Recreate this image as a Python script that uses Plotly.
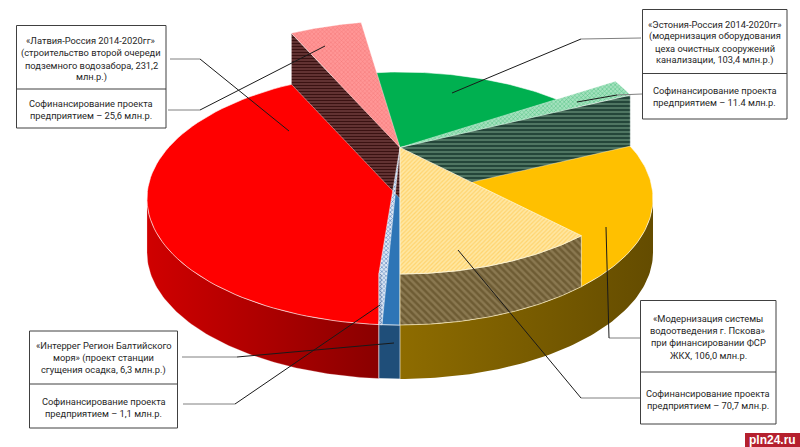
import numpy as np
import plotly.graph_objects as go

# ---- data ----
slice_names = ["blue", "blue_co", "red", "red_co", "green", "green_co", "orange", "orange_co"]
slice_values = [6.3, 1.1, 231.2, 25.6, 103.4, 11.4, 106.0, 70.7]
top_colors = ["#2E75B6", "#B4C7E7", "#FF0000", "#FF9090", "#00B050", "#90DCB0", "#FFC000", "#FFE699"]
box_lines_a = [
    ["«Латвия-Россия 2014-2020гг»", "(строительство второй очереди", "подземного водозабора, 231,2", "млн.р.)"],
    ["«Эстония-Россия 2014-2020гг»", "(модернизация оборудования", "цеха очистных сооружений", "канализации, 103,4 млн.р.)"],
    ["«Интеррег Регион Балтийского", "моря» (проект станции", "сгущения осадка, 6,3 млн.р.)"],
    ["«Модернизация системы", "водоотведения г. Пскова»", "при финансировании ФСР", "ЖКХ, 106,0 млн.р."],
]
box_lines_b = [
    ["Софинансирование проекта", "предприятием – 25,6 млн.р."],
    ["Софинансирование проекта", "предприятием – 11.4 млн.р."],
    ["Софинансирование проекта", "предприятием – 1,1 млн.р."],
    ["Софинансирование проекта", "предприятием – 70,7 млн.р."],
]

# ---- geometry (pixels of the page) ----
CX, CY, RX, RY = 400, 198.5, 253, 126.5
DEPTH, LIFT = 54, 51
FONT = "Roboto"

total = sum(slice_values)
edges = {}
a = 180.0
for n, v in zip(slice_names, slice_values):
    edges[n] = (a, a + v / total * 360)
    a += v / total * 360


def arc(a0, a1, dy=0.0, n=80):
    t = np.radians(np.linspace(a0, a1, n))
    return CX + RX * np.sin(t), CY - RY * np.cos(t) + dy


def rim_pt(ang, dy=0.0):
    x, y = arc(ang, ang, dy, n=2)
    return x[0], y[0]


fig = go.Figure()


def poly(x, y, line="rgba(255,255,255,0.75)", width=0.8, **kw):
    fig.add_trace(go.Scatter(x=list(x), y=list(y), mode="lines", fill="toself",
                             line=dict(color=line, width=width), hoverinfo="skip",
                             showlegend=False, **kw))


def rim_wall(a0, a1, dy_top=0.0, dy_bot=DEPTH, **kw):
    x0, y0 = arc(a0, a1, dy_top)
    x1, y1 = arc(a1, a0, dy_bot)
    poly(np.r_[x0, x1, x0[0]], np.r_[y0, y1, y0[0]], **kw)


def sector(a0, a1, lift=0.0, apex_lift=None, **kw):
    apex_lift = lift if apex_lift is None else apex_lift
    x, y = arc(a0, a1, -lift)
    poly(np.r_[CX, x, CX], np.r_[CY - apex_lift, y, CY - apex_lift], **kw)


def radial_wall(ang, **kw):
    xr, yr = rim_pt(ang)
    poly([CX, xr, xr, CX, CX], [CY - LIFT, yr - LIFT, yr, CY, CY - LIFT], **kw)


def pat(shape, fg, bg, size=3, sol=0.5):
    return dict(shape=shape, fgcolor=fg, bgcolor=bg, size=size, solidity=sol, fillmode="replace")


def grad(c0, c1):
    return dict(type="horizontal", colorscale=[[0, c0], [1, c1]])


# outer side walls
rim_wall(90, 180, line="rgba(0,0,0,0)", width=0, fillgradient=grad("#8E6C00", "#644C00"))
rim_wall(edges["red"][0], 270, line="rgba(255,220,220,0.5)", width=0.5,
         fillgradient=grad("#D00000", "#8A0000"))
rim_wall(180, edges["blue_co"][1], fillcolor="#1F4E79", width=0.8)

# flat tops of the main slices
sector(edges["red"][0], edges["red_co"][1], apex_lift=LIFT, fillcolor=top_colors[2])
sector(edges["green"][0], edges["green"][1], apex_lift=LIFT, fillcolor=top_colors[4])
sector(edges["orange"][0] - 8, edges["orange"][1], fillcolor=top_colors[6])
sector(180, edges["blue_co"][1], apex_lift=LIFT, fillcolor=top_colors[0])

# raised co-financing slices: walls then tops
radial_wall(edges["red_co"][0], fillpattern=pat("-", "#3A1212", "#6E3C3C", 3, 0.5), width=0.5,
            fillcolor="#5A2A2A")
sector(*edges["red_co"], lift=LIFT, fillpattern=pat("x", "#F57878", "#FF9696", 3, 0.3),
       fillcolor=top_colors[3], width=0.5)

radial_wall(edges["green_co"][1], fillpattern=pat("-", "#24463A", "#4F7562", 4, 0.5), width=0.5,
            fillcolor="#2F5542")
sector(*edges["green_co"], lift=LIFT, fillpattern=pat("x", "#4CBE80", "#A4E2BE", 3, 0.3),
       fillcolor=top_colors[5], width=0.5)

# narrow hatched sliver: it runs from the raised centre down to the front rim
ang0, ang1 = edges["blue_co"]
xa, ya = rim_pt(ang1, -LIFT)
xb, yb = rim_pt(ang0)
xc_, yc_ = rim_pt(ang1)
poly([CX, xa, xc_, xb, CX], [CY - LIFT, ya, yc_, yb, CY - LIFT],
     fillpattern=pat("x", "#4F7CB8", "#DCE6F4", 3, 0.35), fillcolor=top_colors[1], width=0.6)
rim_wall(ang0, ang1, dy_top=-LIFT, dy_bot=0, fillpattern=pat("x", "#4A6C9E", "#BCCCE4", 3, 0.4),
         fillcolor="#8FAAD0", width=0.4)

rim_wall(*edges["orange_co"], dy_top=-LIFT, dy_bot=0, fillpattern=pat("\\", "#6E5C34", "#8A7850", 5, 0.5),
         fillcolor="#7A6840", width=0.8, line="rgba(255,240,190,0.9)")
sector(*edges["orange_co"], lift=LIFT, fillpattern=pat("/", "#FFD46E", "#FFE7A2", 3, 0.4),
       fillcolor=top_colors[7], width=0.8, line="rgba(255,250,225,0.9)")

# ---- leader lines ----
leaders = [
    ((170, 59), (200, 59), (289, 131)),
    ((168, 110), (200, 110), (325, 46)),
    ((641, 38), (581, 39), (452, 93)),
    ((642, 94), (617, 95), (577, 102)),
    ((182, 357), (237, 357), (394, 343)),
    ((183, 404), (235, 404), (380, 305)),
    ((640, 338), (609, 338), (606, 227)),
    ((640, 398), (581, 398), (458, 250)),
]
shapes = []
for p0, p1, p2 in leaders:
    shapes.append(dict(type="line", x0=p0[0], y0=p0[1], x1=p1[0], y1=p1[1],
                       line=dict(color="#808080", width=1)))
    shapes.append(dict(type="line", x0=p1[0], y0=p1[1], x1=p2[0], y1=p2[1],
                       line=dict(color="#1A1A1A", width=1)))

# ---- boxes ----
boxes = [
    dict(x0=16.5, x1=166, y0=25.5, y1=128, mid=89, ya=[40, 52.7, 65, 77.3], yb=[103, 115]),
    dict(x0=642.5, x1=787, y0=9.5, y1=119, mid=73.5, ya=[24, 36, 48, 60], yb=[90.7, 102.7]),
    dict(x0=29.5, x1=177.5, y0=331, y1=428, mid=384, ya=[345.7, 358, 370], yb=[401, 413]),
    dict(x0=640.5, x1=776, y0=300.5, y1=424, mid=372, ya=[318, 330, 342, 355], yb=[393, 405.7]),
]
annotations = []
for b, la, lb in zip(boxes, box_lines_a, box_lines_b):
    shapes.append(dict(type="rect", x0=b["x0"], x1=b["x1"], y0=b["y0"], y1=b["y1"],
                       fillcolor="white", line=dict(color="#404040", width=1)))
    shapes.append(dict(type="line", x0=b["x0"], x1=b["x1"], y0=b["mid"], y1=b["mid"],
                       line=dict(color="#404040", width=1)))
    xc = (b["x0"] + b["x1"]) / 2
    for txt, y in list(zip(la, b["ya"])) + list(zip(lb, b["yb"])):
        annotations.append(dict(x=xc, y=y, text=txt, showarrow=False, xanchor="center", yanchor="middle",
                                font=dict(family=FONT, size=9.3, color="#262626")))

# watermark
shapes.append(dict(type="rect", x0=745, x1=800, y0=433, y1=447, fillcolor="#B5202E", line=dict(width=0)))
annotations.append(dict(x=772.5, y=440, text="<b>pln24.ru</b>", showarrow=False,
                        font=dict(family="Liberation Sans", size=12, color="white")))

fig.update_layout(
    width=800, height=447, margin=dict(l=0, r=0, t=0, b=0),
    paper_bgcolor="white", plot_bgcolor="white", showlegend=False,
    xaxis=dict(range=[0, 800], visible=False, fixedrange=True),
    yaxis=dict(range=[447, 0], visible=False, fixedrange=True),
    shapes=shapes, annotations=annotations,
)
fig.write_html("out.html", config={"displayModeBar": False},
               post_script="document.body.style.margin='0';document.body.style.overflow='hidden';")
